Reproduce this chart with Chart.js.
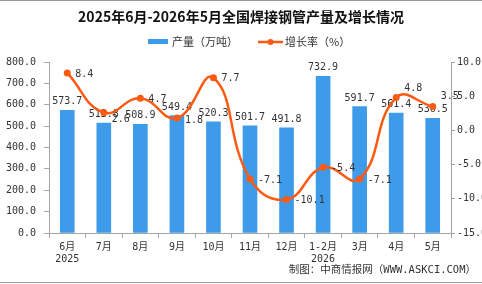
<!DOCTYPE html>
<html>
<head>
<meta charset="utf-8">
<script src="https://cdn.jsdelivr.net/npm/chart.js@4/dist/chart.umd.min.js"></script>
<style>
  html, body { margin: 0; padding: 0; background: #fff; overflow: hidden; }
  canvas { display: block; }
</style>
</head>
<body>
<canvas id="chart" width="482" height="284"></canvas>
<script>
// ── data ──────────────────────────────────────────────────────
const TITLE = '2025年6月-2026年5月全国焊接钢管产量及增长情况';
const SOURCE = '制图：中商情报网（WWW.ASKCI.COM）';
const months = [['6月', '2025'], '7月', '8月', '9月', '10月', '11月', '12月', ['1-2月', '2026'], '3月', '4月', '5月'];
const output = [573.7, 513.8, 508.9, 549.4, 520.3, 501.7, 491.8, 732.9, 591.7, 561.4, 536.5];
const growth = [8.4, 2.6, 4.7, 1.8, 7.7, -7.1, -10.1, -5.4, -7.1, 4.8, 3.5];
const outputTicks = [0, 800, 100];   // min, max, step
const growthTicks = [-15, 10, 5];

const COLORS = {
  bar: '#3d9be9',
  line: '#ff5a12',
  axis: '#a6a6a6',
  text: '#333',
  frame: '#9a9a9a',
};
const MONO = '"DejaVu Sans Mono", "Noto Sans CJK SC", monospace';
const CJK = '"Noto Sans CJK SC", sans-serif';

// small nudges for the growth labels (a few sit below / above their points)
const growthLabelDy = [1, 7, 1, 2, 1, 1, 1, 1, 1, -9, -10];

const decor = {
  id: 'decor',
  afterDatasetDraw(chart, args) {
    if (args.index !== 0) return;
    const ctx = chart.ctx;
    ctx.save();
    ctx.font = '10px ' + MONO;
    ctx.fillStyle = COLORS.text;
    ctx.textAlign = 'center';
    ctx.textBaseline = 'alphabetic';
    args.meta.data.forEach((bar, i) => {
      ctx.fillText(output[i].toFixed(1), bar.x, bar.y - 6);
    });
    ctx.restore();
  },
  afterDatasetsDraw(chart) {
    const ctx = chart.ctx;
    const meta = chart.getDatasetMeta(1);
    ctx.save();
    ctx.font = '10px ' + MONO;
    ctx.fillStyle = COLORS.text;
    ctx.textAlign = 'left';
    ctx.textBaseline = 'middle';
    meta.data.forEach((pt, i) => {
      ctx.fillText(growth[i].toFixed(1), pt.x + 8, pt.y + growthLabelDy[i]);
    });
    ctx.restore();
  },
  afterDraw(chart) {
    const ctx = chart.ctx;
    const W = chart.width;
    ctx.save();
    // frame lines
    ctx.fillStyle = COLORS.frame;
    ctx.fillRect(0, 0, W, 1);
    ctx.fillRect(0, 282, W, 1);

    // title
    ctx.fillStyle = '#111';
    ctx.font = 'bold 14px ' + CJK;
    ctx.textAlign = 'center';
    ctx.textBaseline = 'middle';
    ctx.fillText(TITLE, W / 2, 17);

    // legend
    const ly = 42;
    ctx.font = '11px ' + CJK;
    ctx.textAlign = 'left';
    ctx.fillStyle = COLORS.bar;
    ctx.fillRect(148, ly - 3, 20, 5);
    ctx.fillStyle = COLORS.text;
    ctx.fillText(chart.data.datasets[0].label, 172, ly);

    ctx.strokeStyle = COLORS.line;
    ctx.lineWidth = 2.5;
    ctx.beginPath();
    ctx.moveTo(258, ly);
    ctx.lineTo(283, ly);
    ctx.stroke();
    ctx.fillStyle = COLORS.line;
    ctx.beginPath();
    ctx.arc(270.5, ly, 3, 0, Math.PI * 2);
    ctx.fill();
    ctx.fillStyle = COLORS.text;
    ctx.fillText(chart.data.datasets[1].label, 285, ly);

    // source
    ctx.font = '10.5px ' + MONO;
    ctx.textAlign = 'right';
    ctx.fillText(SOURCE, 476, 270);
    ctx.restore();
  },
};

const axisBase = {
  border: { color: COLORS.axis },
  ticks: { color: COLORS.text, font: { family: MONO, size: 10 } },
};

new Chart(document.getElementById('chart'), {
  type: 'bar',
  data: {
    labels: months,
    datasets: [
      {
        label: '产量（万吨）', data: output, backgroundColor: COLORS.bar,
        barThickness: 14, yAxisID: 'y', order: 2,
      },
      {
        label: '增长率（%）', data: growth, type: 'line', borderColor: COLORS.line,
        backgroundColor: COLORS.line, borderWidth: 2.5, tension: 0.45,
        pointRadius: 3.5, pointBackgroundColor: COLORS.line, pointBorderWidth: 0,
        yAxisID: 'y1', order: 1,
      },
    ],
  },
  options: {
    responsive: false,
    animation: false,
    events: [],
    layout: { padding: { top: 62, left: 0, right: 0, bottom: 0 } },
    plugins: { legend: { display: false }, tooltip: { enabled: false }, title: { display: false } },
    scales: {
      x: {
        ...axisBase,
        offset: true,
        grid: { display: true, drawOnChartArea: false, offset: true, tickLength: 5, color: COLORS.axis },
        ticks: { ...axisBase.ticks, padding: 3, maxRotation: 0, autoSkip: false },
        afterFit(scale) { scale.height = 51; },
      },
      y: {
        ...axisBase,
        position: 'left',
        min: outputTicks[0], max: outputTicks[1],
        grid: { drawOnChartArea: false, tickLength: 5, color: COLORS.axis },
        ticks: { ...axisBase.ticks, stepSize: outputTicks[2], padding: 8, callback: v => v.toFixed(1) },
        afterFit(scale) { scale.width = 49; },
      },
      y1: {
        ...axisBase,
        position: 'right',
        min: growthTicks[0], max: growthTicks[1],
        grid: { drawOnChartArea: false, tickLength: 4, color: COLORS.axis },
        ticks: { ...axisBase.ticks, stepSize: growthTicks[2], padding: 2, callback: v => v.toFixed(1) },
        afterFit(scale) { scale.width = 31; },
      },
    },
  },
  plugins: [decor],
});
</script>
</body>
</html>
